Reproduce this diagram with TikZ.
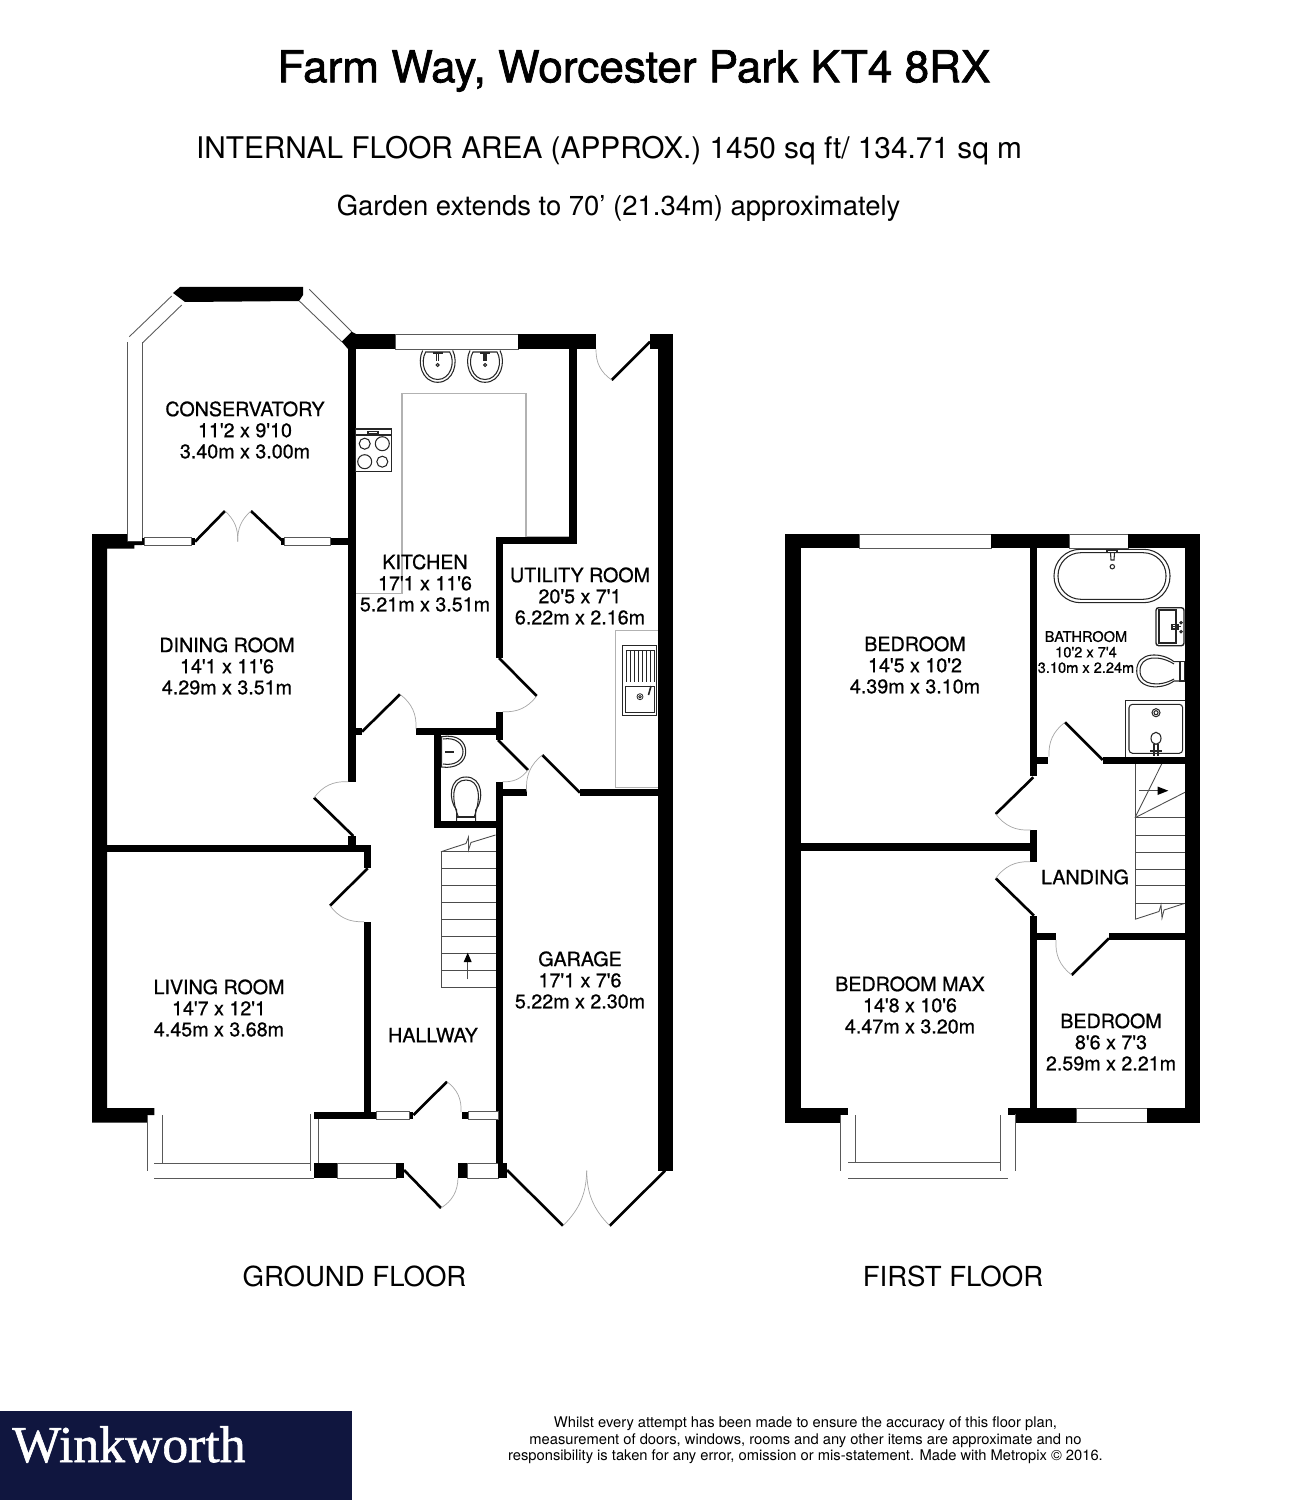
\documentclass[tikz,border=0pt]{standalone}
\usepackage{fontspec}
\newfontfamily\planfont{TeX Gyre Heros}
\newfontfamily\headfont[FakeBold=1.6]{TeX Gyre Heros}
\newfontfamily\roomfont[FakeBold=0.8]{TeX Gyre Heros}
\newfontfamily\logofont[FakeBold=1.2]{Liberation Serif}
\definecolor{navy}{HTML}{10163F}
\tikzset{
  wall/.style={fill=black},
  pane/.style={draw=black!65, fill=white, line width=0.5pt},
  glass/.style={draw=black!65, line width=0.5pt},
  door/.style={black, line width=1.5pt},
  swing/.style={black!35, line width=0.4pt},
  worktop/.style={black!30, line width=0.6pt},
  fitting/.style={black!85, line width=0.6pt},
  treads/.style={black!70, line width=0.5pt},
  room/.style={align=center, inner sep=0pt, font=\roomfont\fontsize{11.2}{12}\selectfont},
  smallroom/.style={align=center, inner sep=0pt, font=\roomfont\fontsize{8.3}{8.8}\selectfont},
  caption/.style={inner sep=0pt, font=\planfont\fontsize{15.7}{18}\selectfont}
}
\begin{document}
\begin{tikzpicture}[x=0.02cm, y=-0.02cm]
\useasboundingbox (0,0) rectangle (1298,1500);

\node (title) [inner sep=0pt, font=\headfont\fontsize{25.1}{28}\selectfont] at (634,71) {Farm Way, Worcester Park KT4 8RX};
\node (area) [inner sep=0pt, font=\planfont\fontsize{16.97}{20}\selectfont] at (609,150.5) {INTERNAL FLOOR AREA (APPROX.) 1450 sq ft/ 134.71 sq m};
\node (garden) [inner sep=0pt, font=\planfont\fontsize{15.63}{18}\selectfont] at (618.5,208) {Garden extends to 70’ (21.34m) approximately};

\draw [worktop] (355.7,593.3) -- (402,593.3) -- (402,393.7) -- (526,393.7) -- (526,536.7) -- (569,536.7);
\draw [worktop] (658,630.7) -- (615.7,630.7) -- (615.7,787.7) -- (658,787.7);

\fill [wall] (173,293) -- (180,287) -- (303,287) -- (303,295) -- (299,301) -- (185,302) -- cycle;
\draw [glass] (129.3,336.7) -- (171.7,296);
\draw [glass] (142.7,342.7) -- (181.7,305);
\draw [glass] (309.3,289.3) -- (351.7,331.7);
\draw [glass] (299.3,301) -- (341.7,341.7);
\draw [pane] (127,342) -- (127,541.7) -- (142,541.7) -- (142,342);
\fill [wall] (351.7,331.7) -- (356,334) -- (356,349) -- (348,349) -- (341.7,341.7) -- cycle;

\fill [wall] (356,334) rectangle (395,349.3);
\draw [pane] (395,334) rectangle (518.3,349.3);
\fill [wall] (518.3,334) rectangle (596,349.3);
\fill [wall] (569.3,349) rectangle (576.7,544);
\fill [wall] (496,537.3) rectangle (576.7,544);
\fill [wall] (495.5,537.3) rectangle (502.5,657.7);
\fill [wall] (495.5,712) rectangle (502.5,740);
\fill [wall] (495.5,781.7) rectangle (502.5,1163);
\fill [wall] (348.3,349) rectangle (355.5,781.7);
\fill [wall] (348.3,728.3) rectangle (362,735);
\fill [wall] (416,728.3) rectangle (495.5,735);
\fill [wall] (348.3,836) rectangle (355.5,846.7);
\fill [wall] (92,845.3) rectangle (371,851.7);
\fill [wall] (364,845.3) rectangle (371,868);
\fill [wall] (364,921.7) rectangle (371,1119);
\fill [wall] (434,735) rectangle (441,828.3);
\fill [wall] (434,821) rectangle (495.5,828.3);
\fill [wall] (502,789) rectangle (526.7,795.7);
\fill [wall] (580,789) rectangle (658,795.7);
\fill [wall] (650,334) rectangle (658,349.3);
\fill [wall] (657.5,334) rectangle (672.7,1170.7);

\fill [wall] (92,534) -- (127,534) -- (127,541.7) -- (142,541.7) -- (142,545) -- (134.3,545) -- (134.3,548.7) -- (107,548.7) -- (107,1108) -- (154.3,1108) -- (154.3,1115) -- (147.4,1115) -- (147.4,1122.7) -- (92,1122.7) -- cycle;
\fill [wall] (142,537.7) rectangle (195,545);
\draw [pane] (144.3,537.7) rectangle (191.7,545);
\fill [wall] (281,537.7) rectangle (348.3,545);
\draw [pane] (284.3,537.7) rectangle (330.7,545);

\draw [door] (195,541.7) -- (225,511);
\draw [swing] (225,511) to [bend left=25] (237.7,541.7);
\draw [door] (283.3,541.7) -- (251,511);
\draw [swing] (251,511) to [bend right=25] (237.7,541.7);
\draw [door] (650,341.7) -- (611.7,380);
\draw [swing] (611.7,380) to [bend left=28] (596,349.3);
\draw [door] (499,658) -- (536.7,696);
\draw [swing] (536.7,696) to [bend left=28] (502.5,711.7);
\draw [door] (362,731.7) -- (400,694.3);
\draw [swing] (400,694.3) to [bend left=28] (416,729);
\draw [door] (353.3,836) -- (314,797.7);
\draw [swing] (314,797.7) to [bend left=28] (348.3,781.7);
\draw [door] (367.7,868.3) -- (330,905.7);
\draw [swing] (330,905.7) to [bend right=28] (364,921.7);
\draw [door] (498,740) -- (528,770);
\draw [swing] (528,770) to [bend left=28] (502.5,781.7);
\draw [door] (580,792.7) -- (542.3,755);
\draw [swing] (542.3,755) to [bend right=28] (526.7,791.7);

\draw [glass] (147.4,1115) -- (147.4,1170.7);
\draw [glass] (162.3,1115) -- (162.3,1163);
\draw [glass] (154.3,1163) -- (311,1163);
\draw [glass] (154.3,1178) -- (314,1178);
\draw [glass] (310,1114) -- (310,1170.7);
\draw [glass] (318,1114) -- (318,1163);
\fill [wall] (314,1111.7) rectangle (376,1119);
\draw [pane] (376,1111.7) rectangle (409.6,1119);
\fill [wall] (409.6,1111.7) rectangle (413.4,1119);
\fill [wall] (462,1111.7) rectangle (468,1119);
\draw [pane] (468,1111.7) rectangle (498.7,1119);
\fill [wall] (314,1163) rectangle (337,1178);
\draw [pane] (337,1163) rectangle (396,1178);
\fill [wall] (396,1163) rectangle (404,1178);
\fill [wall] (458,1163) rectangle (467,1178);
\draw [pane] (467,1163) rectangle (498,1178);
\fill [wall] (498,1163) rectangle (507,1178);

\draw [door] (413.4,1115) -- (447,1081.7);
\draw [swing] (447,1081.7) to [bend left=28] (461,1112);
\draw [door] (404,1170) -- (441,1208);
\draw [swing] (441,1208) to [bend right=28] (458,1178);
\draw [door] (507,1170) -- (563,1225.7);
\draw [swing] (563,1225.7) to [bend right=22] (586.7,1170.7);
\draw [door] (665,1170.7) -- (609.7,1225.7);
\draw [swing] (609.7,1225.7) to [bend left=22] (586.7,1170.7);

\draw [fitting, fill=white] (355.7,429) rectangle (391.3,471.3);
\draw [fitting] (355.7,435) -- (391.3,435);
\draw [fitting] (368,431.2) rectangle (378,433.6);
\draw [fitting] (364.7,443.7) circle [radius=5.5];
\draw [fitting] (382.3,443.7) circle [radius=7];
\draw [fitting] (364.7,461.7) circle [radius=7];
\draw [fitting] (382.3,461.7) circle [radius=5.5];

\foreach \basin in {437.7,485} {
  \draw [fitting] (\basin-15,350.5) .. controls (\basin-21,362) and (\basin-16,382.3) .. (\basin,382.3) .. controls (\basin+16,382.3) and (\basin+21,362) .. (\basin+15,350.5);
  \draw [fitting] (\basin-12,352) .. controls (\basin-18,362) and (\basin-13,379.5) .. (\basin,379.5) .. controls (\basin+13,379.5) and (\basin+18,362) .. (\basin+12,352) -- cycle;
  \draw [fitting] (\basin-5,353) -- (\basin+5,353);
  \draw [fitting] (\basin-1,353) -- (\basin-1,361) (\basin+1,353) -- (\basin+1,361);
  \draw [fitting] (\basin,365) circle [radius=1.5];
}

\draw [fitting, line width=0.8pt] (622.7,645.7) rectangle (656.7,715.7);
\foreach \rib in {626,630,...,654} {
  \draw [fitting, line width=0.45pt] (\rib,650) -- (\rib,681.7);
}
\draw [fitting, line width=0.45pt] (625.7,650) -- (654,650);
\draw [fitting, line width=0.45pt] (625.7,686.7) rectangle (654,712.7);
\draw [fitting, line width=0.45pt] (640,696.7) circle [radius=3];
\draw [fitting, line width=0.45pt] (640,696.7) circle [radius=1.3];
\draw [fitting, line width=0.9pt] (648.5,695) -- (651,686);

\draw [fitting] (441.7,736.7) .. controls (458,734) and (465.7,742) .. (465.7,751.7) .. controls (465.7,762) and (456,769) .. (441.7,767) -- cycle;
\draw [fitting] (443,739) .. controls (456,737) and (463,744) .. (463,751.7) .. controls (463,760) and (455,766) .. (443,764);
\draw [fitting] (445,752) -- (454,752);
\draw [fitting] (456.7,821) -- (456.7,810) .. controls (448,800) and (449,777) .. (466,777) .. controls (483,777) and (484,800) .. (475.7,810) -- (475.7,821);
\draw [fitting] (458,816) .. controls (451,798) and (452,780) .. (466,780) .. controls (480,780) and (481,798) .. (474.5,816);
\draw [fitting] (456.7,817) -- (475.7,817);

\draw [treads] (441,851.7) -- (441,987.7);
\foreach \tread in {851.7,868.7,885.7,902.7,919.7,936.7,953.7,970.7,987.7} {
  \draw [treads] (441,\tread) -- (495.5,\tread);
}
\draw [treads] (441,851.7) -- (466,843.5) -- (468.5,837) -- (468.5,850) -- (471,842.5) -- (495.5,835);
\draw [treads] (467.7,979.3) -- (467.7,960);
\fill [black] (467.7,952.7) -- (471.7,962) -- (463.7,962) -- cycle;

\fill [wall] (785.3,534) rectangle (859,548.3);
\draw [pane] (859,534) rectangle (991,548.3);
\fill [wall] (991,534) rectangle (1069.3,548.3);
\draw [pane] (1069.3,534) rectangle (1128.3,548.3);
\fill [wall] (1128.3,534) rectangle (1200,548.3);
\fill [wall] (785.3,534) rectangle (800.7,1122.7);
\fill [wall] (1185,534) rectangle (1200,1122.7);
\fill [wall] (1030,548) rectangle (1037.3,776);
\fill [wall] (1037,756.7) rectangle (1048.3,764);
\fill [wall] (1102.7,756.7) rectangle (1185,764);
\fill [wall] (1030,830) rectangle (1037.3,861.7);
\fill [wall] (800,843.3) rectangle (1030,850.7);
\fill [wall] (1030,915.7) rectangle (1037.3,1122.7);
\fill [wall] (1037,933.3) rectangle (1056,940);
\fill [wall] (1109,933.3) rectangle (1185,940);
\fill [wall] (785.3,1108) rectangle (848.3,1115);
\fill [wall] (785.3,1115) rectangle (841,1122.7);
\fill [wall] (1007.7,1108) rectangle (1076.3,1115);
\fill [wall] (1015,1115) rectangle (1076.3,1122.7);
\draw [pane] (1076.3,1108) rectangle (1147.3,1122.7);
\fill [wall] (1147.3,1108) rectangle (1200,1122.7);

\draw [door] (1065,722.3) -- (1102.7,760);
\draw [swing] (1065,722.3) to [bend right=28] (1049,756.7);
\draw [door] (1033.3,777.3) -- (995.7,814);
\draw [swing] (995.7,814) to [bend right=28] (1030.7,830);
\draw [door] (995.7,878.3) -- (1034,915.7);
\draw [swing] (995.7,878.3) to [bend left=28] (1030,861.7);
\draw [door] (1109,938.3) -- (1071.7,975);
\draw [swing] (1071.7,975) to [bend left=28] (1056,940);

\draw [glass] (840.3,1115) -- (840.3,1170.7);
\draw [glass] (855.7,1115) -- (855.7,1162.7);
\draw [glass] (848.3,1162.7) -- (1000,1162.7);
\draw [glass] (848.3,1178) -- (1007.7,1178);
\draw [glass] (1000,1115) -- (1000,1170.7);
\draw [glass] (1015,1114) -- (1015,1170.7);

\draw [fitting, rounded corners=15pt] (1054,549.3) rectangle (1170,602.7);
\draw [fitting, rounded corners=13pt] (1058,552.7) rectangle (1166,599.3);
\draw [fitting] (1107,550) -- (1117,550) -- (1117,552.7) -- (1107,552.7) -- cycle;
\draw [fitting] (1110.5,552.7) -- (1111,560) -- (1114,560) -- (1114.5,552.7);
\draw [fitting] (1112.3,566.7) circle [radius=2.2];

\draw [fitting, line width=0.8pt, rounded corners=1.5pt] (1156,607.7) rectangle (1184,645.7);
\draw [fitting] (1159,610) -- (1176,610) -- (1176,643) -- (1159,643) -- cycle;
\draw [fitting] (1172,626.7) -- (1181,626.7);
\draw [fitting] (1172,624.7) rectangle (1178,629);
\draw [fitting] (1181,622.7) circle [radius=1.2];
\draw [fitting] (1181,631.7) circle [radius=1.2];

\draw [fitting] (1180,661.7) -- (1174,661.7) .. controls (1162,652) and (1136.7,651) .. (1136.7,670.8) .. controls (1136.7,690) and (1162,690) .. (1174,681) -- (1180,681);
\draw [fitting] (1174,664) .. controls (1160,655) and (1140,655) .. (1140,670.8) .. controls (1140,686) and (1160,687) .. (1174,679);
\draw [fitting] (1180,661.7) rectangle (1184.3,681);

\draw [fitting] (1125.7,756.7) -- (1125.7,700.7) -- (1185,700.7);
\draw [fitting, rounded corners=2pt] (1129,704.3) rectangle (1182.7,753.3);
\draw [fitting] (1156,712.7) circle [radius=4];
\draw [fitting] (1156,712.7) circle [radius=2];
\draw [fitting] (1156,738.3) ellipse [x radius=5, y radius=6];
\draw [fitting] (1154,744) -- (1154,756) (1158,744) -- (1158,756);
\draw [fitting] (1150,751) -- (1162,751);

\draw [treads] (1135,764) -- (1135,919.3);
\foreach \tread in {817.7,835,852,869,885.7,903} {
  \draw [treads] (1135,\tread) -- (1185,\tread);
}
\draw [treads] (1135,817.7) -- (1161.7,764);
\draw [treads] (1135,817.7) -- (1185,792.3);
\draw [treads] (1135,919.3) -- (1159,911.5) -- (1161,905) -- (1162,918) -- (1164,910) -- (1185,903.3);
\draw [treads] (1139.3,790.7) -- (1158,790.7);
\fill [black] (1168.3,790.7) -- (1157.5,786.5) -- (1157.5,795) -- cycle;

\node (conservatory) [room] at (245,430) {CONSERVATORY\\11'2 x 9'10\\3.40m x 3.00m};
\node (kitchen) [room] at (425,583) {KITCHEN\\17'1 x 11'6\\5.21m x 3.51m};
\node (utility) [room] at (580,596) {UTILITY ROOM\\20'5 x 7'1\\6.22m x 2.16m};
\node (dining) [room] at (227,666) {DINING ROOM\\14'1 x 11'6\\4.29m x 3.51m};
\node (living) [room] at (219,1008) {LIVING ROOM\\14'7 x 12'1\\4.45m x 3.68m};
\node (hallway) [room] at (433,1035) {HALLWAY};
\node (garage) [room] at (580,980) {GARAGE\\17'1 x 7'6\\5.22m x 2.30m};
\node (bedroomrear) [room] at (915,665) {BEDROOM\\14'5 x 10'2\\4.39m x 3.10m};
\node (bathroom) [smallroom] at (1086,652) {BATHROOM\\10'2 x 7'4\\3.10m x 2.24m};
\node (landing) [room] at (1085,877) {LANDING};
\node (bedroommax) [room] at (910,1005) {BEDROOM MAX\\14'8 x 10'6\\4.47m x 3.20m};
\node (bedroomfront) [room] at (1111,1042) {BEDROOM\\8'6 x 7'3\\2.59m x 2.21m};

\node (groundfloor) [caption] at (354.5,1276) {GROUND FLOOR};
\node (firstfloor) [caption] at (953,1276) {FIRST FLOOR};

\fill [navy] (0,1411) rectangle (352,1500);
\node (logo) [inner sep=0pt, anchor=base west, text=white, font=\logofont\fontsize{29.4}{32}\selectfont] at (12,1462) {Winkworth};

\node (disclaimer) [align=center, inner sep=0pt, font=\planfont\fontsize{8.38}{9.3}\selectfont] at (805.5,1440.5) {Whilst every attempt has been made to ensure the accuracy of this floor plan,\\measurement of doors, windows, rooms and any other items are approximate and no\\responsibility is taken for any error, omission or mis-statement. Made with Metropix \textcopyright{} 2016.};
\end{tikzpicture}
\end{document}
